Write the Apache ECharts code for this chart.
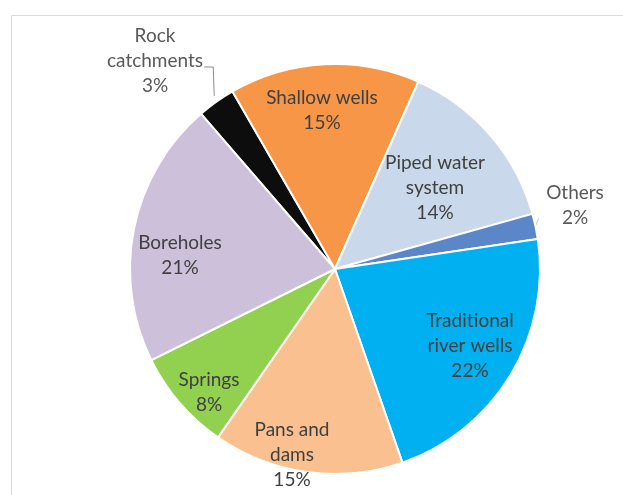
<!DOCTYPE html>
<html>
<head>
<meta charset="utf-8">
<script src="https://cdn.jsdelivr.net/npm/echarts@6/dist/echarts.min.js"></script>
<style>
html,body{margin:0;padding:0;background:#fff;}
#chart{width:623px;height:495px;}
</style>
</head>
<body>
<div id="chart"></div>
<script>
// Data (clockwise order, starting from Rock catchments)
const categories = ['Rock\ncatchments', 'Shallow wells', 'Piped water\nsystem', 'Others', 'Traditional\nriver wells', 'Pans and\ndams', 'Springs', 'Boreholes'];
const values = [3, 15, 14, 2, 22, 15, 8, 21];

// Styles / layout kept separately
const colors = ['#0d0d0d', '#F79646', '#C9D8EB', '#5B87C8', '#00B0F0', '#FAC090', '#92D050', '#CCC0DA'];
const textColors = ['#595959', '#404040', '#404040', '#595959', '#404040', '#404040', '#404040', '#404040'];
// label anchor positions (px) for each slice label
const labelPos = [[155, 61], [322, 110], [435, 188], [575, 205], [470, 346], [292, 455], [209, 392], [180, 255]];

const chart = echarts.init(document.getElementById('chart'), null, {renderer: 'canvas'});
const data = categories.map((c, i) => ({
  name: c,
  value: values[i],
  itemStyle: {color: colors[i]},
  label: {show: true, color: textColors[i]},
  labelLine: {show: i === 0 || i === 3, length: 8, length2: 4, lineStyle: {color: i === 0 ? '#8c8c8c' : '#c8c8c8', width: 1}}
}));

chart.setOption({
  animation: false,
  graphic: [{
    type: 'polyline',
    shape: {points: [[11.5, 495], [11.5, 15.5], [623, 15.5]]},
    style: {stroke: '#d9d9d9', lineWidth: 1, fill: null},
    silent: true
  }],
  series: [{
    type: 'pie',
    center: [335, 269],
    radius: [0, 205],
    startAngle: 130.8,
    clockwise: true,
    avoidLabelOverlap: false,
    itemStyle: {borderColor: '#ffffff', borderWidth: 2},
    label: {
      position: 'outside',
      formatter: p => p.name + '\n' + Math.round(p.value) + '%',
      fontFamily: 'Lato, "Open Sans", sans-serif',
      fontSize: 19,
      lineHeight: 25,
      align: 'center',
      verticalAlign: 'middle'
    },
    labelLayout: function (params) {
      const i = params.dataIndex;
      const p = labelPos[i];
      const out = {x: p[0], y: p[1], align: 'center', verticalAlign: 'middle'};
      const lp = params.labelLinePoints;
      if (lp && i === 0) {
        const s = lp[0];
        out.labelLinePoints = [[s[0] - 2, s[1] - 6], [s[0] - 3, p[1] + 6], [s[0] - 12, p[1] + 6]];
      } else if (lp && i === 3) {
        const s = lp[0];
        out.labelLinePoints = [[s[0], s[1]], [s[0] + 3, s[1] - 8], [s[0] + 3, s[1] - 8]];
      }
      return out;
    },
    data: data
  }]
});
</script>
</body>
</html>
